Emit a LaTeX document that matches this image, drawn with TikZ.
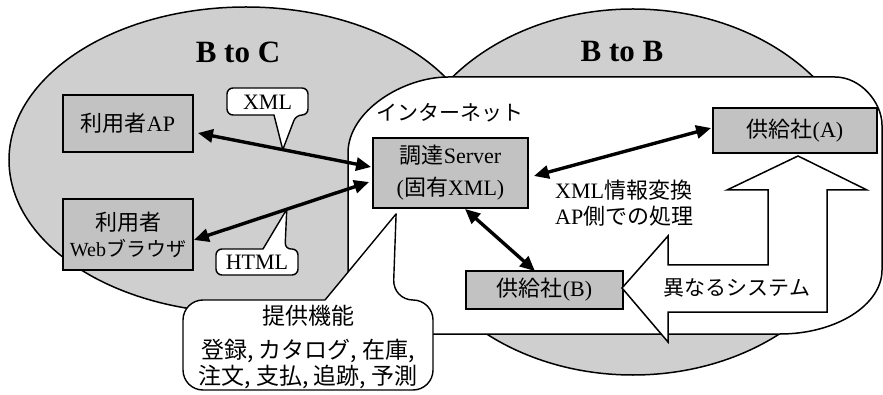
\documentclass[tikz,border=0pt]{standalone}
\usepackage{fontspec}
\setmainfont{Liberation Serif}
\newfontfamily\cjk{Noto Sans CJK JP}
\usetikzlibrary{arrows.meta}
\tikzset{
 zone/.style={draw=black, line width=1.5pt, fill=black!19},
 box/.style={draw=black, line width=1.8pt, fill=black!24, inner sep=0pt, font=\fontsize{22}{26}\selectfont, align=center},
 link/.style={line width=3.4pt, {Triangle[length=15pt,width=13pt]}-{Triangle[length=15pt,width=13pt]}},
 balloon/.style={draw=black, line width=1.4pt, fill=white, line join=round},
 title/.style={font=\fontsize{31}{33}\selectfont\bfseries, inner sep=0pt},
 txt/.style={font=\fontsize{22}{26}\selectfont, inner sep=0pt}
}
\begin{document}
\begin{tikzpicture}[x=1pt,y=-1pt]
\useasboundingbox (0,0) rectangle (883,395);
\fill[white] (0,0) rectangle (883,395);
% zones
\draw[zone] (246,160) ellipse [x radius=237pt, y radius=153pt];
\draw[zone] (633,192) ellipse [x radius=232pt, y radius=183pt];
% internet
\draw[line width=1.5pt, fill=white] (348,153) .. controls (348,111) and (403,77) .. (448,77) -- (835,77) .. controls (861,77) and (882,103) .. (882,125) -- (882,270) .. controls (882,305) and (836,334) .. (780,334) -- (348,334) -- cycle;
\node[txt, font=\fontsize{21}{24}\selectfont\cjk] (inet) at (450,113) {インターネット};
% titles
\node[title] (b2c) at (238,52) {B to C};
\node[title] (b2b) at (622,52) {B to B};
% boxes
\node[box, minimum width=130pt, minimum height=57pt] (ap) at (128,123.5) {{\cjk 利用者}AP};
\node[box, minimum width=130pt, minimum height=71pt] (web) at (128,234.5) {{\cjk 利用者}\\{\fontsize{20}{24}\selectfont Web\cjk ブラウザ}};
\node[box, minimum width=155pt, minimum height=70pt] (srv) at (450.5,173) {{\cjk 調達}Server\\[6pt]({\cjk 固有}XML)};
\node[box, minimum width=164pt, minimum height=45pt] (supA) at (795,130.5) {{\cjk 供給社}(A)};
\node[box, minimum width=157pt, minimum height=38pt] (supB) at (544.5,290) {{\cjk 供給社}(B)};
% links
\draw[link] ([shift={(4,9.5)}]ap.east) -- ([shift={(-1,-6)}]srv.west) coordinate[pos=0.49] (xmltip);
\draw[link] ([shift={(0,5.5)}]web.east) -- ([shift={(-3,9)}]srv.west) coordinate[pos=0.53] (htmltip);
\draw[link] ([shift={(5,3)}]srv.east) -- ([shift={(-1,-2.5)}]supA.west);
\draw[link] ([shift={(14.5,0)}]srv.south) -- ([shift={(-9.5,1)}]supB.north);
% callouts
\draw[balloon] (274,115) [rounded corners=6pt] -- (227,115) -- (227,88) -- (308,88) -- (308,115) -- (296,115) [sharp corners] -- (xmltip) -- cycle;
\node[txt] (xmllbl) at (267.5,102) {XML};
\draw[balloon] (263,249) [rounded corners=6pt] -- (216,249) -- (216,275) -- (298,275) -- (298,249) -- (285,249) [sharp corners] -- (htmltip) -- cycle;
\node[txt] (htmllbl) at (257,262) {HTML};
\coordinate (srvtip) at ([shift={(24,5)}]srv.south west);
\draw[balloon] (325,300) [rounded corners=20pt] -- (183,300) -- (183,390) -- (433,390) -- (433,300) -- (393,300) [sharp corners] -- (srvtip) -- cycle;
\node[txt, align=center, font=\fontsize{23}{26}\selectfont\cjk] (func) at (308,347) {提供機能\\[8pt]登録, カタログ, 在庫,\\注文, 支払, 追跡, 予測};
% big arrow
\draw[line width=1.5pt, fill=white, line join=miter] (798,156) -- (867,190) -- (827,190) -- (827,312) -- (668,312) -- (668,342) -- (622,288) -- (668,236) -- (668,265) -- (768,265) -- (768,190) -- (727,190) -- cycle;
\node[txt, font=\fontsize{21}{24}\selectfont\cjk] (diff) at (737,288) {異なるシステム};
\node[txt, anchor=west, align=left] (conv) at (555,203) {XML{\cjk 情報変換}\\AP{\cjk 側での処理}};
\end{tikzpicture}
\end{document}
